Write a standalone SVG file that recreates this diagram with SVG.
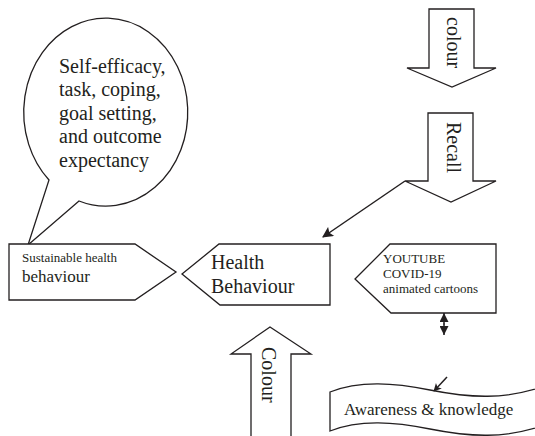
<svg xmlns="http://www.w3.org/2000/svg" width="535" height="436" viewBox="0 0 535 436">
<style>
.s{fill:#fff;stroke:#231f20;stroke-width:1.3;stroke-linejoin:miter}
.t{font-family:"Liberation Serif","Times New Roman",serif;fill:#231f20}
.c{stroke:#231f20;stroke-width:1.5;fill:none}
</style>
<defs>
<marker id="ah" viewBox="0 0 10 10" refX="9" refY="5" markerWidth="9" markerHeight="8" markerUnits="userSpaceOnUse" orient="auto-start-reverse">
<path d="M0,0 L10,5 L0,10 L2.5,5 Z" fill="#231f20"/>
</marker>
<marker id="ab" viewBox="0 0 10 10" refX="9" refY="5" markerWidth="13" markerHeight="11" markerUnits="userSpaceOnUse" orient="auto-start-reverse">
<path d="M0,0 L10,5 L0,10 L2,5 Z" fill="#231f20"/>
</marker>
<marker id="ad" viewBox="0 0 10 10" refX="10" refY="5" markerWidth="11" markerHeight="9" markerUnits="userSpaceOnUse" orient="auto-start-reverse">
<path d="M0,0 L10,5 L0,10 Z" fill="#231f20"/>
</marker>
</defs>
<rect width="535" height="436" fill="#fff"/>

<g id="bubble">
<path class="s" d="M49,180 A82,94 0 1 1 79,201 L28,245 Z"/>
<text class="t" font-size="20"><tspan x="59" y="73">Self-efficacy,</tspan><tspan x="59" y="96">task, coping,</tspan><tspan x="59" y="120">goal setting,</tspan><tspan x="59" y="143">and outcome</tspan><tspan x="59" y="167">expectancy</tspan></text>
</g>

<g id="sustainable">
<polygon class="s" points="9,244 135,244 176,272 135,300 9,300"/>
<text class="t" x="22" y="262" font-size="13">Sustainable health</text>
<text class="t" x="22" y="282" font-size="17">behaviour</text>
</g>

<g id="health">
<polygon class="s" points="182,274 219,244 330,244 330,305 220,305"/>
<text class="t" x="211" y="269" font-size="20">Health</text>
<text class="t" x="211" y="293" font-size="20">Behaviour</text>
</g>

<g id="youtube">
<polygon class="s" points="355,279 390,244 496,244 496,313 391,313"/>
<text class="t" x="383" y="263" font-size="13">YOUTUBE</text>
<text class="t" x="383" y="278" font-size="13">COVID-19</text>
<text class="t" x="383" y="293" font-size="13">animated cartoons</text>
</g>

<g id="colour-down">
<polygon class="s" points="429,9 474,9 474,68 496,68 452,87 407,68 429,68"/>
<text class="t" font-size="20" transform="translate(447,17) rotate(90)">colour</text>
</g>

<g id="recall">
<polygon class="s" points="428,113 473,113 473,181 496,181 451,202 405,181 428,181"/>
<text class="t" font-size="20" transform="translate(447,122) rotate(90)">Recall</text>
</g>

<g id="colour-up">
<polygon class="s" points="270,327 311,354 291,354 291,440 251,440 251,354 231,354"/>
<text class="t" font-size="20" transform="translate(262,347) rotate(90)">Colour</text>
</g>

<g id="awareness">
<path class="s" d="M330,392 C360,380 395,383 430,390 C470,398 505,400 545,386 L545,425 C505,439 470,437 430,429 C395,422 360,419 330,431 Z"/>
<text class="t" x="344" y="415" font-size="17">Awareness &amp; knowledge</text>
</g>

<g id="connectors">
<line class="c" x1="405" y1="181" x2="323" y2="237" marker-end="url(#ab)"/>
<line class="c" x1="444" y1="324.5" x2="444" y2="313" marker-end="url(#ad)"/>
<line class="c" x1="444" y1="323.5" x2="444" y2="335" marker-end="url(#ad)"/>
<line class="c" x1="447" y1="377" x2="434" y2="391" marker-end="url(#ah)"/>
</g>
</svg>
